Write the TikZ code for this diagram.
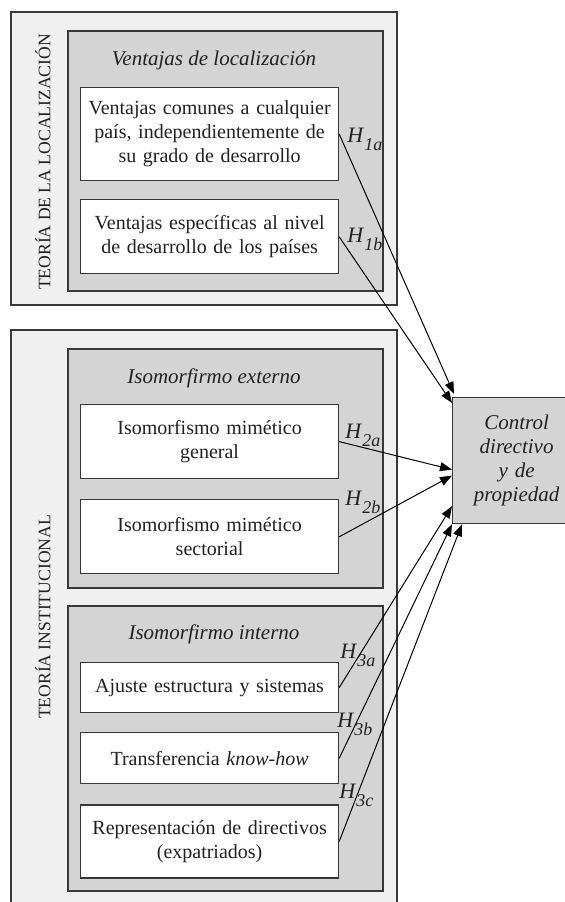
\documentclass[tikz,border=0pt]{standalone}
\usepackage{fontspec}
\setmainfont{Liberation Serif}
\usetikzlibrary{arrows.meta, positioning, fit}
\definecolor{cframe}{gray}{0.22}
\definecolor{cpale}{gray}{0.94}
\definecolor{cpanel}{gray}{0.83}
\definecolor{ctext}{gray}{0.13}
\newcommand{\hip}[1]{\textit{H}\raisebox{-4pt}{\fontsize{9}{9}\selectfont\textit{#1}}}

\begin{document}
\begin{tikzpicture}[
    x=0.5pt, y=-0.5pt,
    frame/.style={draw=cframe, fill=cpale, line width=0.6pt, inner sep=0pt},
    panel/.style={draw=cframe, fill=cpanel, line width=0.6pt, inner sep=0pt},
    item/.style={draw=cframe, fill=white, line width=0.6pt, text width=125pt, inner sep=2pt, align=center, text=ctext, font=\fontsize{10}{12}\selectfont},
    heading/.style={font=\fontsize{10.5}{12}\selectfont\itshape, text=ctext},
    side/.style={rotate=90, font=\fontsize{8.8}{10}\selectfont, text=ctext},
    hlab/.style={anchor=base west, inner sep=0pt, text=ctext, font=\fontsize{11}{12}\selectfont},
    arrow/.style={-{Triangle[length=6pt, width=4.5pt]}, line width=0.5pt, black}
]
\useasboundingbox (0,0) rectangle (565,902);

%% Teoria de la localizacion
\node[frame, fit={(11,12) (397,305)}] (loc) {};
\node[panel, fit={(68,31) (383,291)}] (ventajas) {};
\node[heading] (ventajas_t) at (214,60) {Ventajas de localización};
\node[item, minimum height=46.5pt, anchor=north west] (comunes) at (80,87) {Ventajas comunes a cualquier\\país, independientemente de\\su grado de desarrollo};
\node[item, minimum height=37pt, below=9pt of comunes] (especificas) {Ventajas específicas al nivel\\de desarrollo de los países};
\node[side] (loc_t) at (43,162) {TEORÍA DE LA LOCALIZACIÓN};

%% Teoria institucional
\node[frame, fit={(11,330) (397,912)}] (inst) {};
\node[panel, fit={(68,349) (383,588)}] (externo) {};
\node[heading] (externo_t) at (214,378) {Isomorfirmo externo};
\node[item, minimum height=37pt, anchor=north west] (general) at (80,404) {Isomorfismo mimético\\general};
\node[item, minimum height=37pt, below=10pt of general] (sectorial) {Isomorfismo mimético\\sectorial};
\node[panel, fit={(68,606) (383,891)}] (interno) {};
\node[heading] (interno_t) at (214,634) {Isomorfirmo interno};
\node[item, minimum height=25pt, anchor=north west] (ajuste) at (80,662) {Ajuste estructura y sistemas};
\node[item, minimum height=25.5pt, below=9.5pt of ajuste] (knowhow) {Transferencia \textit{know-how}};
\node[item, minimum height=36.5pt, below=10pt of knowhow] (directivos) {Representación de directivos\\(expatriados)};
\node[side] (inst_t) at (43,617) {TEORÍA INSTITUCIONAL};

%% Control directivo
\node[draw=cframe, fill=cpanel, line width=0.6pt, text width=58pt, inner sep=3pt, minimum height=63pt, anchor=north west, align=center, text=ctext, font=\fontsize{10.5}{12}\selectfont\itshape] (control) at (452,397) {Control\\directivo\\y de\\propiedad};

%% Hipotesis
\node[hlab] (h1a) at (347,142) {\hip{1a}};
\node[hlab] (h1b) at (347,242) {\hip{1b}};
\node[hlab] (h2a) at (345,438) {\hip{2a}};
\node[hlab] (h2b) at (345,505) {\hip{2b}};
\node[hlab] (h3a) at (340,658) {\hip{3a}};
\node[hlab] (h3b) at (337,727) {\hip{3b}};
\node[hlab] (h3c) at (339,798) {\hip{3c}};

\draw[arrow] (comunes.east) -- ([xshift=1pt, yshift=1.5pt]control.north west);
\draw[arrow] (especificas.east) -- ([yshift=-3pt]control.north west);
\draw[arrow] (general.east) -- ([yshift=-4.5pt]control.west);
\draw[arrow] (sectorial.east) -- ([yshift=-7.5pt]control.west);
\draw[arrow] (ajuste.east) -- ([yshift=9pt]control.south west);
\draw[arrow] (knowhow.east) -- (control.south west);
\draw[arrow] (directivos.east) -- ([xshift=5pt]control.south west);

\end{tikzpicture}
\end{document}
